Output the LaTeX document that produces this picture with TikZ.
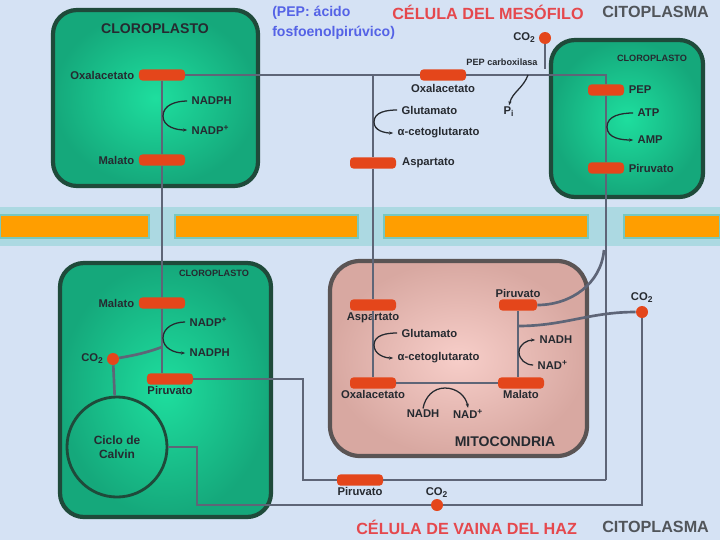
\documentclass[tikz,border=0pt]{standalone}
\usepackage{fontspec}
\setmainfont{Liberation Sans}
\usetikzlibrary{positioning,arrows.meta,calc}
\definecolor{fondo}{HTML}{D5E2F4}
\definecolor{banda}{HTML}{ACD9E2}
\definecolor{bordemem}{HTML}{78C8BF}
\definecolor{naranja}{HTML}{FF9E00}
\definecolor{verdeo}{HTML}{15A87B}
\definecolor{verdec}{HTML}{1EDE9E}
\definecolor{bordev}{HTML}{1F4A3A}
\definecolor{rosao}{HTML}{D8A8A1}
\definecolor{rosac}{HTML}{F7CEC9}
\definecolor{borderosa}{HTML}{5A5454}
\definecolor{rojo}{HTML}{E4461B}
\definecolor{linea}{HTML}{5E6577}
\definecolor{rotulo}{HTML}{E5484D}
\definecolor{azul}{HTML}{5462E6}
\definecolor{texto}{HTML}{262A30}
\tikzset{
  barra/.style={fill=rojo, rounded corners=2.5pt, minimum width=1.15cm, minimum height=0.28cm, inner sep=0pt},
  punto/.style={circle, fill=rojo, minimum size=0.3cm, inner sep=0pt},
  etq/.style={font=\fontsize{8}{9.5}\selectfont\bfseries, text=texto, inner sep=1pt},
  titulo/.style={font=\fontsize{10}{12}\selectfont\bfseries, text=texto},
  titulopeq/.style={font=\fontsize{6.5}{8}\selectfont\bfseries, text=texto},
  cabecera/.style={font=\fontsize{11.5}{13}\selectfont\bfseries, inner sep=0pt},
  via/.style={draw=linea, line width=1.9pt},
  cofactor/.style={draw=texto, line width=0.9pt, -{Stealth[length=3pt]}},
  membrana/.style={draw=bordemem, line width=1.5pt, fill=naranja},
  verde/.style={draw=bordev, line width=3pt, rounded corners=0.6cm, inner color=verdec, outer color=verdeo},
  rosa/.style={draw=borderosa, line width=3pt, rounded corners=0.75cm, inner color=rosac, outer color=rosao}
}

\begin{document}
\begin{tikzpicture}[x=0.025cm, y=-0.025cm]
  \useasboundingbox (0,0) rectangle (720,540);
  \fill[fondo] (0,0) rectangle (720,540);
  %% membrana
  \fill[banda] (0,207) rectangle (720,246);
  \foreach \a/\b in {0/149,175/358,384/588,624/720}
    \draw[membrana] (\a,215) rectangle (\b,238);
  %% compartimentos
  \shadedraw[verde] (53,10) rectangle (258,186);
  \shadedraw[verde] (551,40) rectangle (703,197);
  \shadedraw[verde] (60,263) rectangle (271,517);
  \shadedraw[rosa] (330,261) rectangle (587,456);
  %%
  \node[titulo] (tclA) at (155,29) {CLOROPLASTO};
  \node[titulopeq] (tclM) at (652,58) {CLOROPLASTO};
  \node[titulopeq] (tclB) at (214,273) {CLOROPLASTO};
  \node[titulo] (tmit) at (505,442) {MITOCONDRIA};
  \node[cabecera, text=rotulo, anchor=west] (mes) at (392,12) {CÉLULA DEL MESÓFILO};
  \node[cabecera, text=texto!80, anchor=west] (cit1) at (602,12) {CITOPLASMA};
  \node[cabecera, text=azul, anchor=north west, align=left,
        font=\fontsize{10}{14}\selectfont\bfseries] (pep) at (272,6) {(PEP: ácido\\fosfoenolpirúvico)};
  \node[cabecera, text=rotulo, anchor=west] (vai) at (356,527) {CÉLULA DE VAINA DEL HAZ};
  \node[cabecera, text=texto!80, anchor=west] (cit2) at (602,527) {CITOPLASMA};
  %% cloroplasto del mesofilo (izq.)
  \node[barra] (oaaA) at (162,75) {};
  \node[etq, left=2pt of oaaA] (loaaA) {Oxalacetato};
  \node[etq, anchor=west] (nadphA) at (190,101) {NADPH};
  \node[etq, anchor=west] (nadpA) at (190,130) {NADP\textsuperscript{+}};
  \node[barra] (malA) at (162,160) {};
  \node[etq, left=2pt of malA] (lmalA) {Malato};
  %% citoplasma del mesofilo
  \node[barra] (oaaC) at (443,75) {};
  \node[etq, below=1pt of oaaC] (loaaC) {Oxalacetato};
  \node[etq, font=\fontsize{6.5}{8}\selectfont\bfseries] (pepc) at (502,62) {PEP carboxilasa};
  \node[punto] (co2A) at (545,38) {};
  \node[etq, left=1pt of co2A] (lco2A) {CO\textsubscript{2}};
  \node[etq] (piA) at (509,112) {P\textsubscript{i}};
  \coordinate (jT) at (373,75);
  \coordinate (pcA) at (528,75);
  \node[etq, anchor=west] (gluC) at (400,110) {Glutamato};
  \node[etq, anchor=west] (akgC) at (396,133) {α-cetoglutarato};
  \node[barra] (aspC) at (373,163) {};
  \node[etq, right=3pt of aspC] (laspC) {Aspartato};
  %% cloroplasto del mesofilo (der.)
  \node[barra, minimum width=0.9cm] (pepA) at (606,90) {};
  \node[etq, right=2pt of pepA] (lpepA) {PEP};
  \node[etq, anchor=west] (atpA) at (636,113) {ATP};
  \node[etq, anchor=west] (ampA) at (636,140) {AMP};
  \node[barra, minimum width=0.9cm] (pirA) at (606,168) {};
  \node[etq, right=2pt of pirA] (lpirA) {Piruvato};
  %% mitocondria
  \node[barra] (aspM) at (373,305) {};
  \node[etq, below=0pt of aspM] (laspM) {Aspartato};
  \node[etq, anchor=west] (gluM) at (400,333) {Glutamato};
  \node[etq, anchor=west] (akgM) at (396,358) {α-cetoglutarato};
  \node[barra] (oaaM) at (373,383) {};
  \node[etq, below=0pt of oaaM] (loaaM) {Oxalacetato};
  \node[etq] (nadhM) at (423,414) {NADH};
  \node[etq] (nadM) at (468,414) {NAD\textsuperscript{+}};
  \node[barra] (malM) at (521,383) {};
  \node[etq, below=0pt of malM] (lmalM) {Malato};
  \node[barra, minimum width=0.95cm] (pirM) at (518,305) {};
  \node[etq, above=0pt of pirM] (lpirM) {Piruvato};
  \node[etq, anchor=west] (nadhM2) at (538,340) {NADH};
  \node[etq, anchor=west] (nadM2) at (536,365) {NAD\textsuperscript{+}};
  \coordinate (jM) at (518,326);
  \node[punto] (co2M) at (642,312) {};
  \node[etq, above=1pt of co2M] (lco2M) {CO\textsubscript{2}};
  %% cloroplasto de la vaina
  \node[barra] (malB) at (162,303) {};
  \node[etq, left=2pt of malB] (lmalB) {Malato};
  \node[etq, anchor=west] (nadpB) at (188,322) {NADP\textsuperscript{+}};
  \node[etq, anchor=west] (nadphB) at (188,353) {NADPH};
  \coordinate (jB) at (162,347);
  \node[punto] (co2B) at (113,359) {};
  \node[etq, left=1pt of co2B] (lco2B) {CO\textsubscript{2}};
  \node[barra] (pirB) at (170,379) {};
  \node[etq, below=0pt of pirB] (lpirB) {Piruvato};
  \node[circle, draw=bordev, line width=2pt, minimum size=2.5cm, align=center, etq,
        font=\fontsize{8.5}{10}\selectfont\bfseries] (calvin) at (117,447) {Ciclo de\\Calvin};
  %% citoplasma de la vaina
  \node[barra] (pirL) at (360,480) {};
  \node[etq, below=0pt of pirL] (lpirL) {Piruvato};
  \node[punto] (co2L) at (437,505) {};
  \node[etq, above=0pt of co2L] (lco2L) {CO\textsubscript{2}};
  \coordinate (esqR) at (606,480);
  %% conexiones
  \draw[via] (oaaA) -- (oaaC);
  \draw[via] (oaaC) -| (pepA);
  \draw[via] (co2A) -- (co2A |- oaaC.north);
  \draw[cofactor] (pcA) to[out=-110,in=75] (piA.north);
  \draw[via] (jT) -- (aspC);
  \draw[via] (aspC) -- (aspM);
  \draw[cofactor] ([xshift=-2pt]gluC.west) to[out=180,in=90] (374,122) to[out=-90,in=180] ([xshift=-2pt]akgC.west);
  \draw[via] (oaaA) -- (malA);
  \draw[cofactor] ([xshift=-2pt]nadphA.west) to[out=180,in=90] (163,116) to[out=-90,in=180] ([xshift=-2pt]nadpA.west);
  \draw[via] (malA) -- (malB);
  \draw[via] (malB) -- (jB);
  \draw[via] (jB) -- (jB |- pirB.north);
  \draw[via] (co2B) to[out=10,in=200] (jB);
  \draw[via] (co2B) -- (calvin);
  \draw[cofactor] ([xshift=-2pt]nadpB.west) to[out=180,in=90] (163,338) to[out=-90,in=180] ([xshift=-2pt]nadphB.west);
  \draw[via] (pepA) -- (pirA);
  \draw[cofactor] ([xshift=-2pt]atpA.west) to[out=180,in=90] (607,127) to[out=-90,in=180] ([xshift=-2pt]ampA.west);
  \draw[via] (pirA) -- (esqR);
  \draw[via] (esqR) -- (pirL);
  \draw[via] (pirL) -- (303,480) -- (303,379) -- (pirB);
  \draw[via] (pirM) to[out=0,in=-95] (604,250);
  \draw[via] (pirM) -- (pirM |- malM.north);
  \draw[via] (jM) to[out=0,in=180] (co2M);
  \draw[cofactor] ([xshift=-2pt]nadM2.west) to[out=180,in=-90] (519,352) to[out=90,in=180] ([xshift=-2pt]nadhM2.west);
  \draw[via] (aspM) -- (oaaM);
  \draw[cofactor] ([xshift=-2pt]gluM.west) to[out=180,in=90] (374,345) to[out=-90,in=180] ([xshift=-2pt]akgM.west);
  \draw[via] (oaaM) -- (malM);
  \draw[cofactor] (nadhM.north) to[out=80,in=180] (445,388) to[out=0,in=100] (nadM.north);
  \draw[via] (co2M) -- (642,505) -- (co2L);
  \draw[via] (co2L) -- (197,505) -- (197,447) -- (calvin);
\end{tikzpicture}
\end{document}
